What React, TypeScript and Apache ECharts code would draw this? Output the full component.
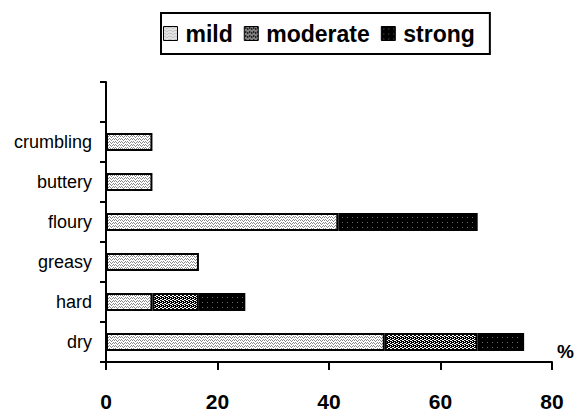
import React, { useEffect, useRef } from "react";
import * as echarts from "echarts";

const categories = ["dry", "hard", "greasy", "floury", "buttery", "crumbling", ""];
const mild = [50, 8.33, 16.67, 41.67, 8.33, 8.33, 0];
const moderate = [16.67, 8.33, 0, 0, 0, 0, 0];
const strong = [8.33, 8.33, 0, 25, 0, 0, 0];
const seriesNames = ["mild", "moderate", "strong"];
const xTicks = { min: 0, max: 80, interval: 20 };

const FONT = "Liberation Sans, Arial, sans-serif";

function makePattern(kind: string): HTMLCanvasElement {
  const c = document.createElement("canvas");
  const ctx = c.getContext("2d")!;
  if (kind === "mild") {
    c.width = 6; c.height = 3;
    ctx.fillStyle = "#ffffff"; ctx.fillRect(0, 0, 6, 3);
    ctx.fillStyle = "#8a8a8a";
    ctx.fillRect(0, 1, 1, 1); ctx.fillRect(1, 0, 1, 1); ctx.fillRect(2, 1, 1, 1);
    ctx.fillRect(3, 2, 1, 1); ctx.fillRect(4, 1, 1, 1); ctx.fillRect(5, 0, 1, 1);
  } else if (kind === "moderate") {
    c.width = 4; c.height = 4;
    ctx.fillStyle = "#ffffff"; ctx.fillRect(0, 0, 4, 4);
    ctx.fillStyle = "#000000";
    ctx.fillRect(0, 0, 2, 1); ctx.fillRect(2, 1, 2, 1); ctx.fillRect(0, 2, 2, 1); ctx.fillRect(2, 3, 2, 1);
    ctx.fillRect(1, 1, 1, 1); ctx.fillRect(3, 2, 1, 1);
  } else {
    c.width = 5; c.height = 5;
    ctx.fillStyle = "#000000"; ctx.fillRect(0, 0, 5, 5);
    ctx.fillStyle = "#6a6a6a";
    ctx.fillRect(2, 2, 1, 1);
  }
  return c;
}

export default function App() {
  const ref = useRef<HTMLDivElement>(null);
  useEffect(() => {
    if (!ref.current) return;
    const chart = echarts.init(ref.current, undefined, { renderer: "svg" });
    const fills = seriesNames.map((n) => ({ image: makePattern(n), repeat: "repeat" }));
    const dataSets = [mild, moderate, strong];
    chart.setOption({
      animation: false,
      backgroundColor: "#ffffff",
      textStyle: { fontFamily: FONT, color: "#000" },
      grid: { left: 106, top: 82, width: 446, height: 280, containLabel: false },
      legend: {
        data: seriesNames,
        left: 161,
        top: 13,
        padding: [9, 15, 9, 2],
        borderColor: "#000",
        borderWidth: 2,
        itemWidth: 14,
        itemHeight: 14,
        itemGap: 11,
        icon: "rect",
        textStyle: { fontSize: 23, fontWeight: "bold", color: "#000", fontFamily: FONT, padding: [0, 0, 0, 3] },
        itemStyle: { borderColor: "#000", borderWidth: 1 },
      },
      xAxis: {
        type: "value",
        min: xTicks.min,
        max: xTicks.max,
        interval: xTicks.interval,
        axisLine: { show: true, lineStyle: { color: "#000", width: 2 } },
        axisTick: { show: true, length: 8, lineStyle: { color: "#000", width: 2 } },
        splitLine: { show: false },
        axisLabel: { fontSize: 21, fontWeight: "bold", color: "#000", margin: 29, fontFamily: FONT },
      },
      yAxis: {
        type: "category",
        data: categories,
        axisLine: { show: true, lineStyle: { color: "#000", width: 2 } },
        axisTick: { show: true, length: 6, lineStyle: { color: "#000", width: 2 } },
        axisLabel: { fontSize: 18, color: "#000", margin: 14, fontFamily: FONT },
      },
      graphic: [
        { type: "text", left: 557, top: 342, style: { text: "%", fontSize: 19, fontWeight: "bold", fill: "#000", fontFamily: FONT } },
      ],
      series: seriesNames.map((n, i) => ({
        name: n,
        type: "bar",
        stack: "total",
        barWidth: 18,
        itemStyle: { color: fills[i], borderColor: "#000", borderWidth: 2 },
        data: dataSets[i].map((v) => (v === 0 ? "-" : v)),
      })),
    });
    return () => chart.dispose();
  }, []);
  return <div ref={ref} style={{ position: "fixed", left: 0, top: 0, width: 577, height: 412 }} />;
}
